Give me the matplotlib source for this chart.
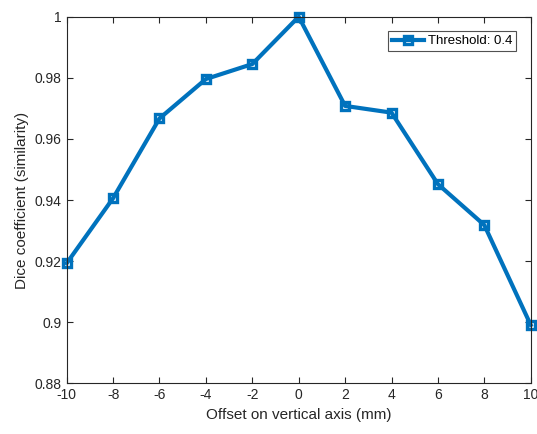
import numpy as np
import matplotlib.pyplot as plt

plt.rcParams['font.family'] = ['Liberation Sans', 'DejaVu Sans']
plt.rcParams['axes.unicode_minus'] = False

offset = [-10, -8, -6, -4, -2, 0, 2, 4, 6, 8, 10]
dice = [0.9193, 0.9406, 0.9667, 0.9796, 0.9845, 1.0, 0.9708, 0.9686, 0.9452, 0.9318, 0.8991]
xticks = [-10, -8, -6, -4, -2, 0, 2, 4, 6, 8, 10]
yticks = [0.88, 0.9, 0.92, 0.94, 0.96, 0.98, 1.0]
ylabels = ['0.88', '0.9', '0.92', '0.94', '0.96', '0.98', '1']

fig = plt.figure(figsize=(5.37, 4.34), dpi=100)
ax = fig.add_axes([0.1242, 0.1168, 0.8641, 0.8447])

ax.plot(offset, dice, color='#0072BD', lw=3, marker='s', ms=6,
        mfc='none', mew=2.4, label='Threshold: 0.4', clip_on=False)

ax.set_xlim(-10, 10)
ax.set_ylim(0.88, 1.0)
ax.set_xticks(xticks)
ax.set_yticks(yticks)
ax.set_yticklabels(ylabels)
ax.tick_params(direction='in', top=True, right=True, labelsize=10,
               colors='#262626', length=4, width=0.8)
for s in ax.spines.values():
    s.set_color('#262626')
    s.set_linewidth(0.8)

ax.set_xlabel('Offset on vertical axis (mm)', fontsize=11, color='#262626')
ax.set_ylabel('Dice coefficient (similarity)', fontsize=11, color='#262626')

leg = ax.legend(loc='upper right', fontsize=9.5, fancybox=False, handlelength=2.4,
                borderpad=0.3, handletextpad=0.3, borderaxespad=1.1)
leg.get_frame().set_edgecolor('#262626')
leg.get_frame().set_linewidth(0.8)

fig.savefig('out.png', dpi=100)
